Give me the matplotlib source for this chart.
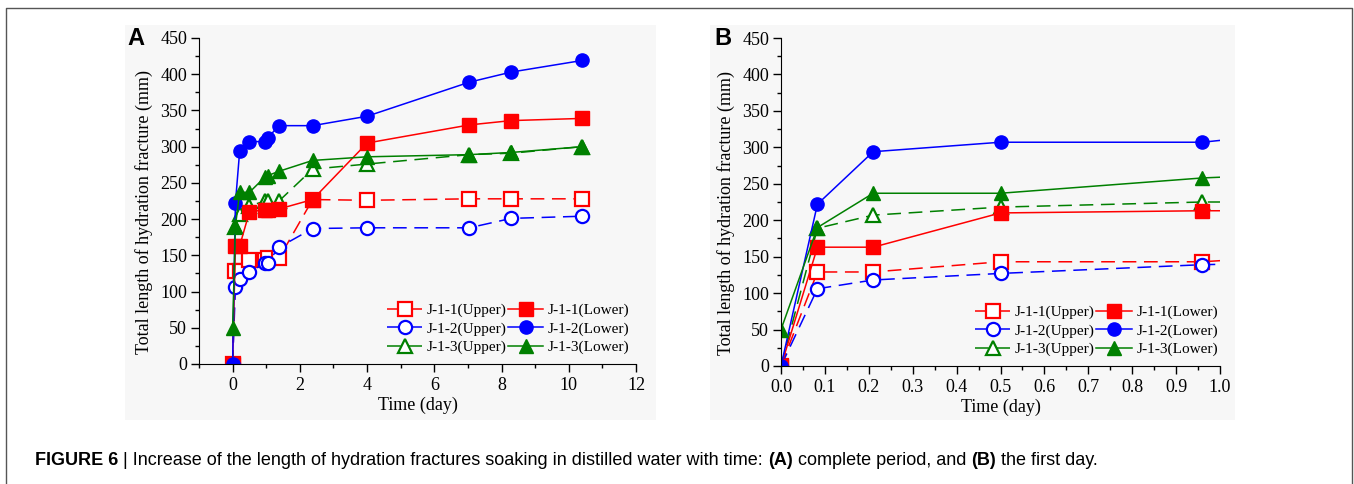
import matplotlib
matplotlib.use('Agg')
import matplotlib.pyplot as plt
from matplotlib.patches import Rectangle
from matplotlib.lines import Line2D
from matplotlib.ticker import MultipleLocator, FormatStrFormatter

# soaking time (day)
time_day = [0, 0.083, 0.21, 0.5, 0.96, 1.04, 1.38, 2.38, 4.0, 7.04, 8.29, 10.4]

# total length of hydration fracture (mm)
j11_upper = [0, 129, 129, 143, 143, 146, 146, 227, 226, 228, 228, 228]
j11_lower = [0, 163, 163, 210, 213, 213, 214, 227, 305, 330, 336, 339]
j12_upper = [0, 106, 118, 127, 139, 140, 161, 187, 188, 188, 201, 204]
j12_lower = [0, 222, 294, 307, 307, 312, 329, 329, 342, 389, 403, 419]
j13_upper = [0, 189, 207, 218, 225, 225, 225, 269, 276, 289, 291, 300]
j13_lower = [50, 190, 237, 237, 258, 260, 266, 281, 286, 289, 292, 300]

names = ['J-1-1', 'J-1-2', 'J-1-3']
upper = [j11_upper, j12_upper, j13_upper]
lower = [j11_lower, j12_lower, j13_lower]
colors = ['#ff0000', '#0000ff', '#008000']
markers = ['s', 'o', '^']

plt.rcParams['font.family'] = 'Liberation Serif'
plt.rcParams['font.size'] = 13

fig = plt.figure(figsize=(13.54, 4.84), dpi=100)
W, H = 1354, 484

def px(x0, y0, x1, y1):
    # pixel box (top-left origin) -> figure fraction rect
    return [x0 / W, 1 - y1 / H, (x1 - x0) / W, (y1 - y0) / H]

# light grey backgrounds of the two images
for box in [(125, 25, 656, 420), (710, 25, 1235, 420)]:
    r = px(*box)
    fig.patches.append(Rectangle((r[0], r[1]), r[2], r[3], transform=fig.transFigure,
                                 facecolor='#f7f7f7', edgecolor='none', zorder=-10))

# outer frame
fig.lines.append(Line2D([6 / W, 6 / W, 1352 / W, 1352 / W], [0, 1 - 8 / H, 1 - 8 / H, 0],
                        transform=fig.transFigure, color='#555555', lw=1.0))

axA = fig.add_axes(px(199, 38, 636, 364))
axB = fig.add_axes(px(781, 38, 1220, 366))


def draw_panel(ax, xlim, xmaj, xmin, legx):
    hup = []
    hlo = []
    for i in range(3):
        h, = ax.plot(time_day, upper[i], color=colors[i], ls=(0, (9, 5)), lw=1.1,
                     marker=markers[i], ms=9.5, mfc='white', mec=colors[i], mew=1.6,
                     label=names[i] + '(Upper)')
        hup.append(h)
    for i in range(3):
        h, = ax.plot(time_day, lower[i], color=colors[i], ls='-', lw=1.1,
                     marker=markers[i], ms=9.5, mfc=colors[i], mec=colors[i],
                     label=names[i] + '(Lower)')
        hlo.append(h)
    ax.set_xlim(*xlim)
    ax.set_ylim(0, 450)
    ax.xaxis.set_major_locator(MultipleLocator(xmaj))
    ax.xaxis.set_minor_locator(MultipleLocator(xmin))
    ax.yaxis.set_major_locator(MultipleLocator(50))
    ax.yaxis.set_minor_locator(MultipleLocator(25))
    ax.set_facecolor('none')
    for s in ['top', 'right']:
        ax.spines[s].set_visible(False)
    ax.tick_params(which='major', direction='out', length=5.5, width=1.0, pad=3)
    ax.tick_params(which='minor', direction='out', length=3, width=1.0)
    ax.tick_params(axis='x', which='major', pad=4)
    ax.set_xlabel('Time (day)', labelpad=2)
    ax.set_ylabel('Total length of hydration fracture (mm)', labelpad=5)
    ax.yaxis.label.set_y(0.465)
    ax.legend(hup + hlo, [h.get_label() for h in hup + hlo], ncol=2, frameon=False,
              fontsize=11, numpoints=1, handlelength=2.3, handletextpad=0.3,
              columnspacing=0.1, labelspacing=0.3, borderpad=0, borderaxespad=0,
              loc='lower right', bbox_to_anchor=(legx, 0.03))


draw_panel(axA, (-1, 12), 2, 1, 0.985)
draw_panel(axB, (0, 1.0), 0.1, 0.05, 0.995)
axB.xaxis.set_major_formatter(FormatStrFormatter('%.1f'))

fig.text(127 / W, 1 - 45 / H, 'A', family='Liberation Sans', weight='bold', fontsize=17, va='baseline')
fig.text(714 / W, 1 - 45 / H, 'B', family='Liberation Sans', weight='bold', fontsize=17, va='baseline')

# caption, drawn piece by piece so parts can be bold
pieces = [('FIGURE 6', 'bold'), (' | Increase of the length of hydration fractures soaking in distilled water with time: ', 'normal'),
          ('(A)', 'bold'), (' complete period, and ', 'normal'), ('(B)', 'bold'), (' the first day.', 'normal')]
renderer = fig.canvas.get_renderer()
x = 35
for txt, wt in pieces:
    t = fig.text(x / W, 1 - 465 / H, txt, family='Liberation Sans', weight=wt, fontsize=13, va='baseline')
    x += t.get_window_extent(renderer).width

fig.savefig('out.png', dpi=100)
